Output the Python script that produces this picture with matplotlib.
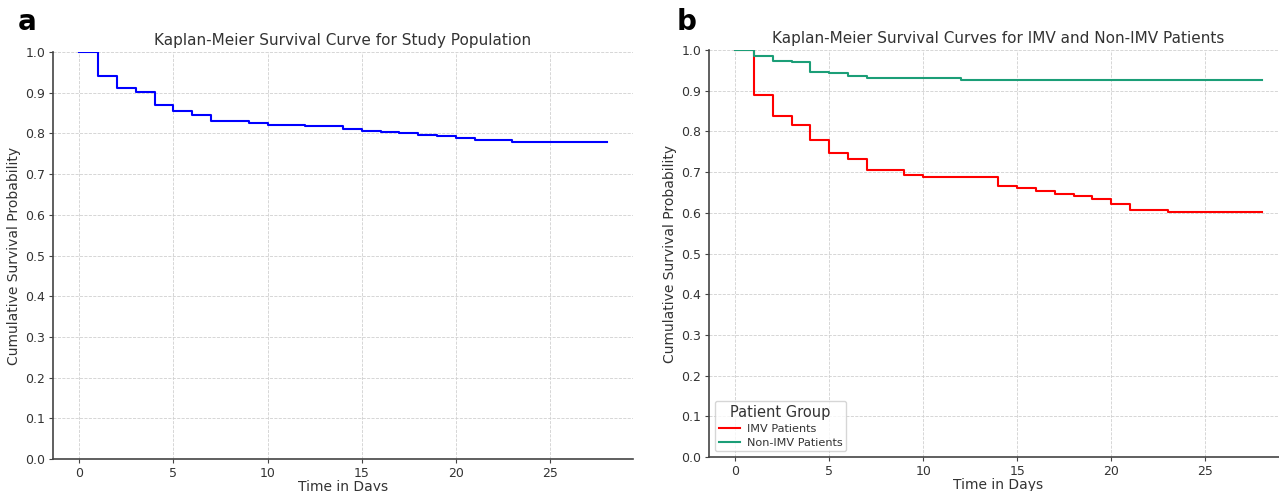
import numpy as np
import matplotlib
matplotlib.use("Agg")
import matplotlib.pyplot as plt


# ── Data ───────────────────────────────
# panel a : whole study population
days_all = [0, 1, 2, 3, 4, 5, 6, 7, 9, 10, 12, 14, 15, 16, 17, 18, 19, 20, 21, 23, 28]
surv_all = [1.0, 0.941, 0.912, 0.901, 0.870, 0.855, 0.845, 0.831, 0.825, 0.820, 0.818,
            0.810, 0.807, 0.803, 0.800, 0.797, 0.793, 0.789, 0.784, 0.780, 0.780]

# panel b : IMV vs non-IMV
days_imv = [0, 1, 2, 3, 4, 5, 6, 7, 9, 10, 14, 15, 16, 17, 18, 19, 20, 21, 23, 28]
surv_imv = [1.0, 0.890, 0.837, 0.817, 0.779, 0.746, 0.733, 0.706, 0.694, 0.687,
            0.667, 0.661, 0.654, 0.647, 0.641, 0.634, 0.621, 0.608, 0.601, 0.601]

days_non = [0, 1, 2, 3, 4, 5, 6, 7, 12, 28]
surv_non = [1.0, 0.986, 0.974, 0.970, 0.947, 0.943, 0.937, 0.931, 0.927, 0.927]

group_labels = ['IMV Patients', 'Non-IMV Patients']

TXT = '#333333'
plt.rcParams['font.family'] = ['DejaVu Sans']
plt.rcParams['text.color'] = TXT
plt.rcParams['axes.labelcolor'] = TXT
plt.rcParams['xtick.color'] = TXT
plt.rcParams['ytick.color'] = TXT

fig = plt.figure(figsize=(12.79, 4.91), dpi=100)
ax1 = fig.add_axes([0.0414, 0.065, 0.4535, 0.829])
# right panel runs a bit past the image edge in the reference
ax2 = fig.add_axes([0.5543, 0.069, 0.4527, 0.829])


def style(ax):
    ax.set_ylim(0, 1.0)
    ax.set_xlim(-1.4, 29.4)
    ax.set_yticks(np.arange(0, 1.01, 0.1))
    ax.set_xticks([0, 5, 10, 15, 20, 25])
    ax.grid(True, linestyle='--', linewidth=0.6, color='#d0d0d0')
    ax.set_axisbelow(True)
    for s in ['top', 'right']:
        ax.spines[s].set_visible(False)
    for s in ['left', 'bottom']:
        ax.spines[s].set_color('#444444')
        ax.spines[s].set_linewidth(1.2)
    ax.tick_params(labelsize=9, length=3, pad=2.5, color='#444444')
    ax.set_xlabel('Time in Days', fontsize=10, labelpad=0)
    ax.set_ylabel('Cumulative Survival Probability', fontsize=10, labelpad=3)


# panel a
ax1.step(days_all, surv_all, where='post', color='blue', linewidth=1.5)
style(ax1)
ax1.set_title('Kaplan-Meier Survival Curve for Study Population', fontsize=11, pad=5)

# panel b
ax2.step(days_imv, surv_imv, where='post', color='red', linewidth=1.5, label=group_labels[0])
ax2.step(days_non, surv_non, where='post', color='#1b9e77', linewidth=1.5, label=group_labels[1])
style(ax2)
ax2.set_title('Kaplan-Meier Survival Curves for IMV and Non-IMV Patients', fontsize=11, pad=5)
leg = ax2.legend(title='Patient Group', loc='lower left', fontsize=8.1, title_fontsize=10.5,
                 labelspacing=0.35, borderpad=0.35, handlelength=1.9, handletextpad=0.6)

fig.text(0.014, 0.955, 'a', fontsize=20, fontweight='bold', color='black', va='center')
fig.text(0.529, 0.955, 'b', fontsize=20, fontweight='bold', color='black', va='center')

fig.savefig('out.png', dpi=100)
